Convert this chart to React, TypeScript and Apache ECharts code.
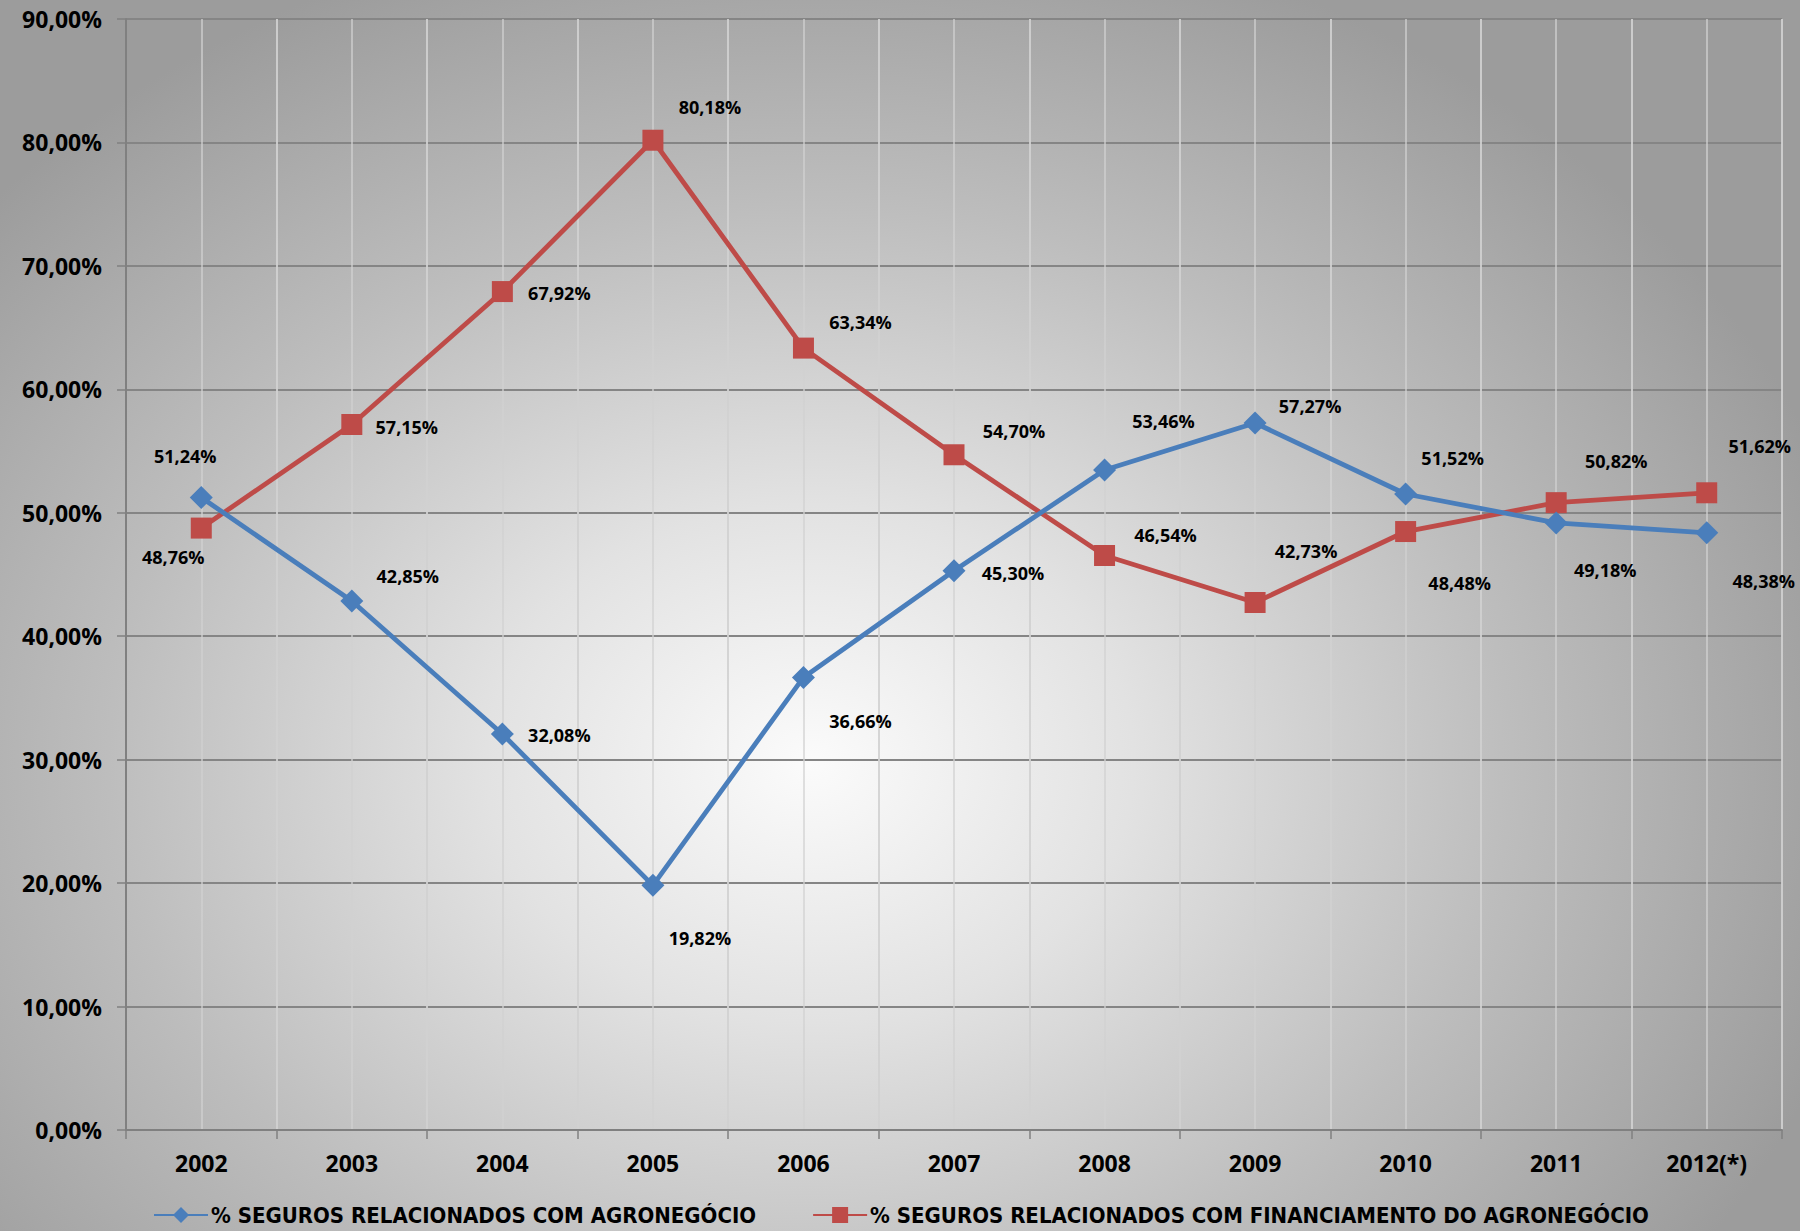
import React, { useEffect, useRef } from "react";
import * as echarts from "echarts";

const categories = ["2002", "2003", "2004", "2005", "2006", "2007", "2008", "2009", "2010", "2011", "2012(*)"];
const agronegocio = [51.24, 42.85, 32.08, 19.82, 36.66, 45.3, 53.46, 57.27, 51.52, 49.18, 48.38];
const financiamento = [48.76, 57.15, 67.92, 80.18, 63.34, 54.7, 46.54, 42.73, 48.48, 50.82, 51.62];
const seriesNames = [
  "% SEGUROS RELACIONADOS COM AGRONEGÓCIO",
  "% SEGUROS RELACIONADOS COM FINANCIAMENTO DO AGRONEGÓCIO",
];

// label placement (style only)
const blueLabelOffsets = [
  [-16, -41], [56, -25], [57, 1], [47, 53], [57, 44], [59, 2], [59, -49], [55, -17], [47, -36], [49, 47], [57, 48],
];
const redLabelOffsets = [
  [-28, 29], [55, 2], [57, 1], [57, -33], [57, -26], [60, -24], [61, -20], [51, -52], [54, 51], [60, -42], [53, -47],
];

const fmt = (v: number) => v.toFixed(2).replace(".", ",") + "%";
const FONT = "'Open Sans', 'DejaVu Sans', sans-serif";

export default function App() {
  const ref = useRef<HTMLDivElement>(null);
  useEffect(() => {
    document.body.style.margin = "0";
    const chart = echarts.init(ref.current!, undefined, { renderer: "svg" });
    const labelStyle = {
      show: true,
      position: "inside",
      color: "#000",
      fontWeight: "bold",
      fontSize: 18,
      fontFamily: FONT,
      formatter: (p: any) => fmt(p.value),
    };
    chart.setOption({
      animation: false,
      backgroundColor: "transparent",
      grid: { left: 126, right: 18, top: 19, bottom: 101, containLabel: false },
      legend: {
        left: 148,
        top: 1199,
        width: 1640,
        itemWidth: 54,
        itemHeight: 20,
        itemGap: 56,
        textStyle: {
          fontFamily: "'DejaVu Sans Condensed', 'DejaVu Sans', sans-serif",
          fontWeight: "bold",
          fontSize: 22,
          lineHeight: 22,
          color: "#000",
          padding: [0, 0, 0, -2],
        },
        data: seriesNames,
      },
      xAxis: [
        {
          type: "category",
          data: categories,
          boundaryGap: true,
          axisLine: { show: true, lineStyle: { color: "#808080", width: 2 } },
          axisTick: { show: true, length: 9, lineStyle: { color: "#808080", width: 1.5 } },
          splitLine: { show: true, lineStyle: { color: "rgba(210,210,210,0.9)", width: 1.5 } },
          axisLabel: {
            color: "#000",
            fontWeight: "bold",
            fontSize: 23,
            fontFamily: FONT,
            margin: 21,
          },
        },
        {
          type: "value",
          min: 0,
          max: 22,
          interval: 1,
          position: "bottom",
          axisLine: { show: false },
          axisTick: { show: false },
          axisLabel: { show: false },
          splitLine: { show: true, lineStyle: { color: "rgba(210,210,210,0.9)", width: 1.5 } },
        },
      ],
      yAxis: {
        type: "value",
        min: 0,
        max: 90,
        interval: 10,
        axisLine: { show: true, lineStyle: { color: "#808080", width: 2 } },
        axisTick: { show: true, length: 9, lineStyle: { color: "#808080", width: 1.5 } },
        splitLine: { show: true, lineStyle: { color: "#858585", width: 2 } },
        axisLabel: {
          color: "#000",
          fontWeight: "bold",
          fontSize: 23,
          fontFamily: FONT,
          margin: 24,
          formatter: (v: number) => fmt(v),
        },
      },
      series: [
        {
          name: seriesNames[0],
          type: "line",
          xAxisIndex: 0,
          data: agronegocio.map((v, i) => ({ value: v, label: { offset: blueLabelOffsets[i] } })),
          symbol: "diamond",
          symbolSize: 23,
          color: "#4a7ebb",
          lineStyle: { color: "#4a7ebb", width: 4.8 },
          itemStyle: { color: "#4a7ebb" },
          label: labelStyle,
          z: 3,
        },
        {
          name: seriesNames[1],
          type: "line",
          xAxisIndex: 0,
          data: financiamento.map((v, i) => ({ value: v, label: { offset: redLabelOffsets[i] } })),
          symbol: "rect",
          symbolSize: 21,
          color: "#be4b48",
          lineStyle: { color: "#be4b48", width: 4.8 },
          itemStyle: { color: "#be4b48" },
          label: labelStyle,
          z: 2,
        },
      ],
    });
    return () => chart.dispose();
  }, []);
  return (
    <div
      ref={ref}
      style={{
        width: 1800,
        height: 1231,
        background:
          "radial-gradient(ellipse 60% 70% at 45% 62%, #fbfbfb 0%, #e2e2e2 30%, #bdbdbd 65%, #9c9c9c 100%)",
      }}
    />
  );
}
